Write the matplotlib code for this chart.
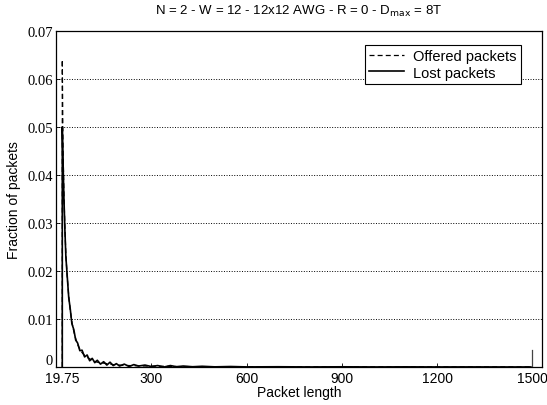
import numpy as np
import matplotlib.pyplot as plt

# === Data ===
# packet length (x) for the decaying part of the distributions
lengths = [19.75, 19.75, 22, 25, 28, 31, 35, 40, 45, 50, 56, 62, 68, 75, 82,
           90, 98, 106, 114, 122, 130, 140, 150, 160, 170, 180, 190, 200, 215,
           230, 245, 260, 280, 300, 320, 340, 360, 380, 400, 430, 460, 500,
           550, 600, 700, 800, 900, 1000, 1100, 1200, 1300, 1400, 1495]

offered = [0.0, 0.064, 0.046, 0.036, 0.029, 0.0235, 0.019, 0.0148, 0.0117,
           0.0094, 0.0074, 0.0059, 0.0047, 0.0037, 0.0030, 0.0024, 0.0020,
           0.0017, 0.0014, 0.0012, 0.0010, 0.0009, 0.0008, 0.0007, 0.0006,
           0.0005, 0.00045, 0.0004, 0.00035, 0.0003, 0.00027, 0.00024,
           0.0002, 0.00018, 0.00016, 0.00014, 0.00012, 0.0001, 0.00009,
           0.00008, 0.00007, 0.00006, 0.00005, 0.00004, 0.00003, 0.00003,
           0.00002, 0.00002, 0.00002, 0.00002, 0.00001, 0.00001, 0.00001]

lost = [0.0, 0.050, 0.043, 0.035, 0.0285, 0.0230, 0.0192, 0.0145, 0.0120,
        0.0090, 0.0078, 0.0056, 0.0050, 0.0034, 0.0035, 0.0021, 0.0025,
        0.0013, 0.0018, 0.0009, 0.0014, 0.0006, 0.0011, 0.0004, 0.0010,
        0.0003, 0.0007, 0.0002, 0.0006, 0.0001, 0.0005, 0.0002, 0.0004,
        0.0001, 0.0003, 0.0000, 0.0003, 0.00005, 0.0002, 0.00005, 0.00015,
        0.00003, 0.0001, 0.00002, 0.00005, 0.00001, 0.00004, 0.00001,
        0.00003, 0.00001, 0.00002, 0.00001, 0.00001]

# single spike at the maximum packet length
spike_x = [1500, 1500]
spike_y = [0.0, 0.0036]

xticks = [19.75, 300, 600, 900, 1200, 1500]
xticklabels = ['19.75', '300', '600', '900', '1200', '1500']
yticks = [0, 0.01, 0.02, 0.03, 0.04, 0.05, 0.06, 0.07]
yticklabels = ['0', '0.01', '0.02', '0.03', '0.04', '0.05', '0.06', '0.07']

# === Plot ===
plt.rcParams['font.family'] = ['Liberation Sans', 'DejaVu Sans']
fig = plt.figure(figsize=(5.47, 4.06), dpi=100)
ax = fig.add_axes([0.1024, 0.0936, 0.8885, 0.8276])

ax.plot(lengths, offered, color='black', linestyle='--', linewidth=0.9,
        dashes=(4, 2.5), label='Offered packets')
ax.plot(lengths, lost, color='black', linestyle='-', linewidth=1.2,
        label='Lost packets')
ax.plot(spike_x, spike_y, color='#444444', linewidth=0.9)

ax.set_xlim(0, 1530)
ax.set_ylim(0, 0.07)
ax.set_xticks(xticks)
ax.set_xticklabels(xticklabels, fontsize=10)
ax.set_yticks(yticks)
ax.set_yticklabels(yticklabels, fontsize=10.5, family='Liberation Serif')
ax.get_yticklabels()[0].set_va('bottom')
ax.tick_params(direction='in', length=3, width=0.6, pad=2)
ax.tick_params(axis='x', pad=3)

ax.yaxis.grid(True, linestyle=':', color='black', linewidth=0.7)
ax.set_axisbelow(True)
for s in ax.spines.values():
    s.set_linewidth(0.9)

ax.set_xlabel('Packet length', fontsize=10, labelpad=0)
ax.set_ylabel('Fraction of packets', fontsize=10, labelpad=5)
ax.set_title('N = 2 - W = 12 - 12x12 AWG - R = 0 - D$_{\\mathrm{max}}$ = 8T',
             fontsize=9.5, pad=12)

leg = ax.legend(loc='upper right', fontsize=10.5, frameon=True, fancybox=False,
                edgecolor='black', framealpha=1, borderpad=0.3,
                handlelength=2.4, handletextpad=0.6, labelspacing=0.15,
                bbox_to_anchor=(0.972, 0.98))
leg.get_frame().set_linewidth(0.8)

fig.savefig('out.png', dpi=100)
